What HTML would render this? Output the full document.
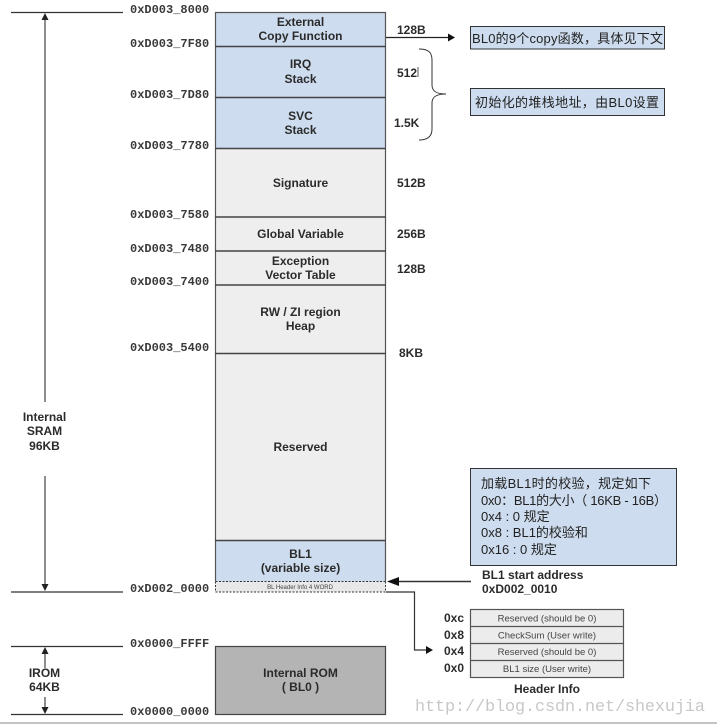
<!DOCTYPE html>
<html><head><meta charset="utf-8">
<style>
html,body{margin:0;padding:0;background:#fff;width:717px;height:724px;overflow:hidden}
svg{display:block}
.b{font:bold 12px "Liberation Sans",sans-serif;fill:#2b2b2b;text-anchor:middle}
.s{font:bold 12px "Liberation Sans",sans-serif;fill:#2b2b2b}
.a{font:bold 12px "Liberation Mono",monospace;fill:#3a3a3a}
.c{font:13px "Liberation Sans","Noto Sans CJK SC",sans-serif;fill:#222}
.h{font:9.5px "Liberation Sans",sans-serif;fill:#444;text-anchor:middle}
</style></head><body>
<svg width="717" height="724" viewBox="0 0 717 724" xmlns="http://www.w3.org/2000/svg">
<!-- main column -->
<rect x="215.5" y="12.5" width="170" height="135.5" fill="#cddcee"/>
<rect x="215.5" y="148" width="170" height="392.5" fill="#eeeeee"/>
<rect x="215.5" y="540.5" width="170" height="41" fill="#cddcee"/>
<rect x="215.5" y="581.5" width="170" height="10.5" fill="#e8e8e8"/>
<path d="M215.5 581V12.5H385.5V581" fill="none" stroke="#555" stroke-width="1.2"/>
<g stroke="#444" stroke-width="1.4">
<path d="M215 46.5H386M215 97.5H386M215 148.5H386M215 217H386M215 251H386M215 285H386M215 353.5H386M215 540.5H386"/>
</g>
<path d="M215.5 581.5H385.5M215.5 592H385.5M215.5 581.5V592M385.5 581.5V592" stroke="#333" stroke-width="1" stroke-dasharray="2 1.5" fill="none"/>
<!-- ROM -->
<rect x="215.5" y="646.5" width="170" height="68" fill="#b4b4b4" stroke="#444" stroke-width="1.2"/>

<!-- box labels -->
<text class="b" x="300.500" y="26">External</text>
<text class="b" x="300.500" y="40">Copy Function</text>
<text class="b" x="300.500" y="68">IRQ</text>
<text class="b" x="300.500" y="83">Stack</text>
<text class="b" x="300.500" y="120">SVC</text>
<text class="b" x="300.500" y="134">Stack</text>
<text class="b" x="300.500" y="187">Signature</text>
<text class="b" x="300.500" y="238">Global Variable</text>
<text class="b" x="300.500" y="265">Exception</text>
<text class="b" x="300.500" y="279">Vector Table</text>
<text class="b" x="300.500" y="316">RW / ZI region</text>
<text class="b" x="300.500" y="330">Heap</text>
<text class="b" x="300.500" y="451">Reserved</text>
<text class="b" x="300.500" y="558">BL1</text>
<text class="b" x="300.500" y="572">(variable size)</text>
<text x="300" y="589" style="font:6px 'Liberation Sans',sans-serif;fill:#444;text-anchor:middle">BL Header Info 4 WORD</text>
<text class="b" x="300.500" y="677">Internal ROM</text>
<text class="b" x="300.500" y="691">( BL0 )</text>

<!-- addresses -->
<text class="a" x="130" y="13">0xD003_8000</text>
<text class="a" x="130" y="47">0xD003_7F80</text>
<text class="a" x="130" y="98">0xD003_7D80</text>
<text class="a" x="130" y="149">0xD003_7780</text>
<text class="a" x="130" y="218">0xD003_7580</text>
<text class="a" x="130" y="252">0xD003_7480</text>
<text class="a" x="130" y="285">0xD003_7400</text>
<text class="a" x="130" y="351">0xD003_5400</text>
<text class="a" x="130" y="592">0xD002_0000</text>
<text class="a" x="130" y="647">0x0000_FFFF</text>
<text class="a" x="130" y="715">0x0000_0000</text>

<!-- sizes -->
<text class="s" x="397" y="34">128B</text>
<text class="s" x="397" y="77">512B</text>
<rect x="418" y="62" width="8" height="20" fill="#fff"/>
<path d="M418 67V77" stroke="#555" stroke-width="1"/>
<text class="s" x="394" y="127">1.5K</text>
<text class="s" x="397" y="187">512B</text>
<text class="s" x="397" y="238">256B</text>
<text class="s" x="397" y="273">128B</text>
<text class="s" x="399" y="357">8KB</text>

<!-- left dimension -->
<g stroke="#333" fill="none">
<path d="M11 12.500H123" stroke-width="1.200"/>
<path d="M11 592H123" stroke-width="1.200"/>
<path d="M11 646.500H123" stroke-width="1.200"/>
<path d="M11 714.500H123" stroke-width="1.200"/>
<path d="M45 17V402M45 476V588M45 652V668M45 697V710" stroke-width="1.100"/>
</g>
<g fill="#222">
<path d="M45 13L41.500 20H48.500Z"/>
<path d="M45 591L41.500 584H48.500Z"/>
<path d="M45 647L41.500 654H48.500Z"/>
<path d="M45 714L41.500 707H48.500Z"/>
</g>
<text class="b" x="44.500" y="421">Internal</text>
<text class="b" x="44.500" y="435">SRAM</text>
<text class="b" x="44.500" y="450">96KB</text>
<text class="b" x="44.500" y="677">IROM</text>
<text class="b" x="44.500" y="691">64KB</text>

<!-- top arrow + callouts -->
<path d="M386 37.500H450" stroke="#222" stroke-width="1.200"/>
<path d="M455 37.500L448 33.500V41.500Z" fill="#111"/>
<rect x="470.500" y="26.500" width="194" height="22.500" fill="#cddcee" stroke="#333"/>
<text class="c" x="472" y="43" textLength="191" lengthAdjust="spacing">BL0的9个copy函数，具体见下文</text>
<rect x="470.500" y="88.500" width="194" height="27" fill="#cddcee" stroke="#333"/>
<text class="c" x="475" y="107" textLength="184" lengthAdjust="spacing">初始化的堆栈地址，由BL0设置</text>
<!-- brace -->
<path d="M419 49C428 49 432 52 432 60V85C432 91 436 94 446 94C436 94 432 97 432 103V129C432 136 428 140 419 140" fill="none" stroke="#333" stroke-width="1"/>

<!-- BL1 note -->
<rect x="470.500" y="468.500" width="206" height="97" fill="#cddcee" stroke="#333"/>
<text class="c" x="481" y="488" textLength="170">加载BL1时的校验，规定如下</text>
<text class="c" x="481" y="505" textLength="186">0x0：BL1的大小（ 16KB - 16B）</text>
<text class="c" x="481" y="521">0x4 : 0 规定</text>
<text class="c" x="481" y="537">0x8 : BL1的校验和</text>
<text class="c" x="481" y="554">0x16 : 0 规定</text>

<!-- BL1 start -->
<path d="M396 581.500H471" stroke="#333" stroke-width="1.400"/>
<path d="M387 581.500L399 577V586Z" fill="#111"/>
<text class="s" x="482" y="579">BL1 start address</text>
<text class="s" x="482" y="593">0xD002_0010</text>

<!-- connector -->
<path d="M386 592H414.500V650H428" fill="none" stroke="#333" stroke-width="1.200"/>
<path d="M433 650L426 646V654Z" fill="#111"/>

<!-- header table -->
<rect x="470.500" y="609.500" width="153" height="68" fill="#ececec" stroke="#555" stroke-width="1.200"/>
<path d="M470 626.500H624M470 643.500H624M470 660.500H624" stroke="#555" stroke-width="1.200"/>
<text class="h" x="547" y="621.500">Reserved (should be 0)</text>
<text class="h" x="547" y="638.500">CheckSum (User write)</text>
<text class="h" x="547" y="655">Reserved (should be 0)</text>
<text class="h" x="547" y="672">BL1 size (User write)</text>
<text class="s" x="444" y="622">0xc</text>
<text class="s" x="444" y="639">0x8</text>
<text class="s" x="444" y="655">0x4</text>
<text class="s" x="444" y="672">0x0</text>
<text class="b" x="547" y="693">Header Info</text>

<!-- watermark -->
<text x="415" y="711" style="font:16.800px 'Liberation Mono',monospace;fill:#c8c8c8" textLength="290">http://blog.csdn.net/shexujia</text>
<!-- bottom rule -->
<rect x="0" y="722" width="717" height="2" fill="#c4c4c4"/>
</svg>
</body></html>
